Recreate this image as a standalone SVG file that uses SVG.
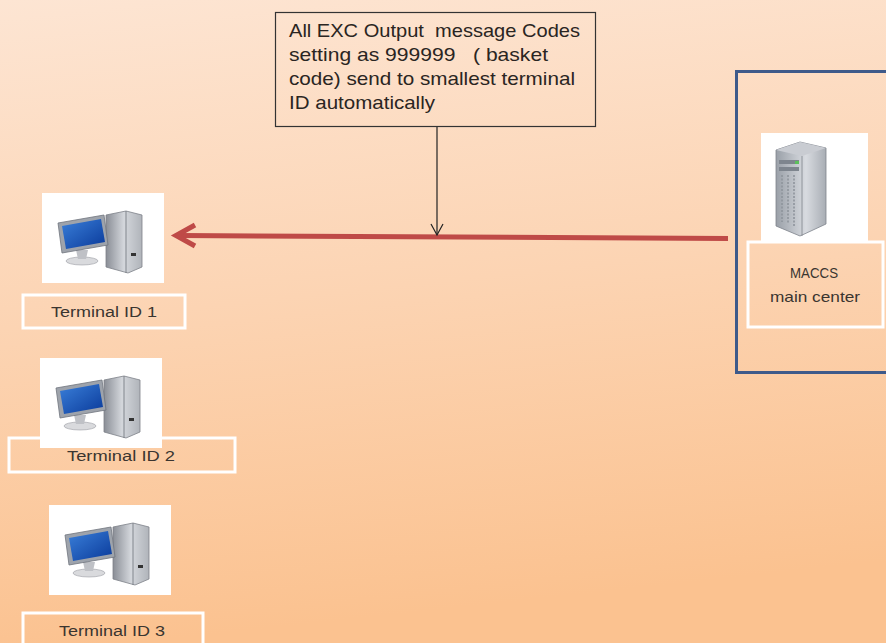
<svg xmlns="http://www.w3.org/2000/svg" width="886" height="643" viewBox="0 0 886 643">
<defs>
<linearGradient id="bg" x1="0" y1="0" x2="0.15" y2="1">
<stop offset="0" stop-color="#fde5d3"/>
<stop offset="0.5" stop-color="#fcd4b3"/>
<stop offset="1" stop-color="#fbc290"/>
</linearGradient>
<linearGradient id="scr" x1="0" y1="0" x2="1" y2="1">
<stop offset="0" stop-color="#3a7fd9"/>
<stop offset="1" stop-color="#0a3a9a"/>
</linearGradient>
<linearGradient id="tow" x1="0" y1="0" x2="1" y2="0">
<stop offset="0" stop-color="#8a8e96"/>
<stop offset="0.5" stop-color="#d4d7dc"/>
<stop offset="1" stop-color="#b0b4ba"/>
</linearGradient>
<linearGradient id="srv" x1="0" y1="0" x2="1" y2="0">
<stop offset="0" stop-color="#9aa0a8"/>
<stop offset="0.6" stop-color="#d8dbe0"/>
<stop offset="1" stop-color="#a8adb4"/>
</linearGradient>
<g id="pc">
<rect x="0" y="0" width="122" height="90" fill="#ffffff"/>
<path d="M64 22 L84 18 L100 22 L100 74 L86 80 L64 74 Z" fill="url(#tow)" stroke="#7d8189" stroke-width="0.8"/>
<path d="M84 18 L84 80" stroke="#6f737b" stroke-width="0.8"/>
<rect x="89" y="60" width="5" height="3" fill="#333"/>
<ellipse cx="40" cy="68" rx="16" ry="4" fill="#d9dadd" stroke="#9a9ca2" stroke-width="0.6"/>
<path d="M34 57 L46 57 L44 66 L36 66 Z" fill="#bfc1c6"/>
<path d="M16 30 L62 22 L66 52 L20 60 Z" fill="#9ea3ab" stroke="#70757d" stroke-width="0.8"/>
<path d="M20 33 L59 26 L63 49 L24 56 Z" fill="url(#scr)"/>
</g>
</defs>
<style>
.lbl{fill:none;stroke:#ffffff;stroke-width:3}
.t{font-family:"Liberation Sans",Arial,sans-serif;font-size:14px;fill:#3a3530}
.c{font-family:"Liberation Sans",Arial,sans-serif;font-size:19px;fill:#2a2522;white-space:pre}
</style>
<rect width="886" height="643" fill="url(#bg)"/>

<g id="callout">
<rect x="275.5" y="12.5" width="320" height="114" fill="none" stroke="#333333" stroke-width="1.2"/>
<text class="c" xml:space="preserve" x="289" y="37" textLength="291" lengthAdjust="spacingAndGlyphs">All EXC Output  message Codes</text>
<text class="c" xml:space="preserve" x="289" y="61" textLength="259" lengthAdjust="spacingAndGlyphs">setting as 999999   ( basket</text>
<text class="c" x="289" y="85" textLength="286" lengthAdjust="spacingAndGlyphs">code) send to smallest terminal</text>
<text class="c" x="289" y="109" textLength="146" lengthAdjust="spacingAndGlyphs">ID automatically</text>
</g>

<g id="terminal1">
<use href="#pc" x="42" y="193"/>
<rect class="lbl" x="23" y="295" width="162" height="33"/>
<text class="t" x="104" y="317" text-anchor="middle" textLength="106" lengthAdjust="spacingAndGlyphs">Terminal ID 1</text>
</g>

<g id="terminal2">
<rect class="lbl" x="9" y="438" width="226" height="34"/>
<use href="#pc" x="40" y="358"/>
<text class="t" x="121" y="461" text-anchor="middle" textLength="108" lengthAdjust="spacingAndGlyphs">Terminal ID 2</text>
</g>

<g id="terminal3">
<use href="#pc" x="49" y="505"/>
<rect class="lbl" x="23" y="613" width="180" height="40"/>
<text class="t" x="112" y="636" text-anchor="middle" textLength="106" lengthAdjust="spacingAndGlyphs">Terminal ID 3</text>
</g>

<g id="maccs">
<rect x="736.5" y="71.5" width="152" height="301" fill="none" stroke="#3e5a8a" stroke-width="3"/>
<rect x="761" y="133" width="107" height="109" fill="#ffffff"/>
<path d="M776 150 L800 142 L826 148 L826 224 L800 236 L776 226 Z" fill="url(#srv)" stroke="#7d838b" stroke-width="0.8"/>
<path d="M776 150 L800 142 L826 148 L802 156 Z" fill="#c9ccd2"/>
<path d="M802 156 L802 236" stroke="#7d838b" stroke-width="0.8"/>
<g fill="#7e858e">
<rect x="779" y="160" width="20" height="4"/>
<rect x="779" y="167" width="20" height="4"/>
</g>
<rect x="795" y="161" width="4" height="3" fill="#5cc05c"/>
<g stroke="#8e949c" stroke-width="1.6" stroke-dasharray="2 1.5">
<path d="M782 175 V222"/><path d="M788 175 V224"/><path d="M794 175 V226"/>
</g>
<rect class="lbl" x="748" y="242" width="135" height="85"/>
<text class="t" x="814" y="278" text-anchor="middle" style="font-size:15px" textLength="48" lengthAdjust="spacingAndGlyphs">MACCS</text>
<text class="t" x="815" y="302" text-anchor="middle" style="font-size:15px" textLength="90" lengthAdjust="spacingAndGlyphs">main center</text>
</g>

<g id="connectors">
<path d="M728 238.5 L180 235.5" stroke="#bf4a47" stroke-width="5" fill="none"/>
<path d="M195 225 L176 235.5 L195 246" stroke="#bf4a47" stroke-width="5" fill="none" stroke-linejoin="miter"/>
<path d="M437 127 V235" stroke="#222222" stroke-width="1.2" fill="none"/>
<path d="M431 224 L437 235 L443 224" stroke="#222222" stroke-width="1.2" fill="none"/>
</g>
</svg>
